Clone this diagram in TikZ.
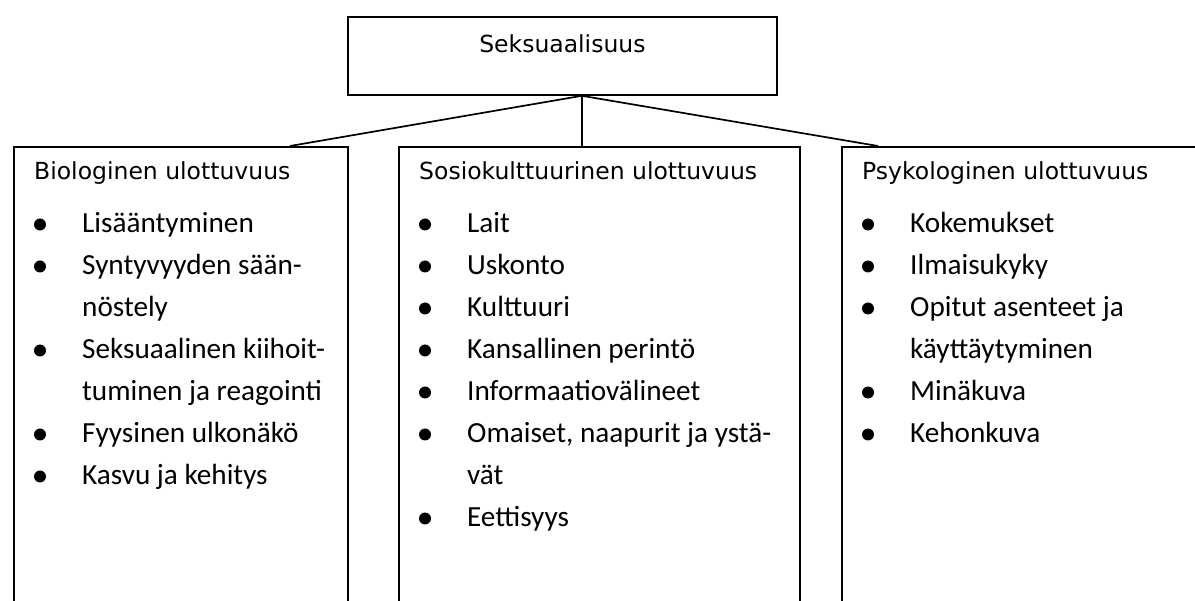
\documentclass[tikz,border=0pt]{standalone}
\usepackage{fontspec}
\newfontfamily\headfont{DejaVu Sans}
\newfontfamily\itemfont{Carlito}
\usetikzlibrary{positioning}
\tikzset{
  dimbox/.style={draw, line width=1.8pt, inner sep=0pt, anchor=north west},
  headtext/.style={font=\headfont\fontsize{23.5}{28}\selectfont, anchor=base west, inner sep=0pt},
  itemtext/.style={font=\itemfont\fontsize{29.2}{35}\selectfont, anchor=base west, inner sep=0pt},
  joinline/.style={line width=1.7pt}
}

\begin{document}
\begin{tikzpicture}[x=1pt,y=-1pt]
  \useasboundingbox (0,0) rectangle (1195,601);

  %top box
  \node[dimbox, minimum width=429pt, minimum height=78pt] (sex) at (347,16) {};
  \node[headtext, anchor=base] (sextext) at ([yshift=-37pt]sex.north) {Seksuaalisuus};

  %the three boxes, they run off the page at the bottom
  \node[dimbox, minimum width=334pt, minimum height=480pt] (bio) at (13,146) {};
  \node[dimbox, minimum width=401pt, minimum height=480pt] (soc) at (398,146) {};
  \node[dimbox, minimum width=380pt, minimum height=480pt] (psy) at (841,146) {};

  %joining lines
  \coordinate (hub) at ([xshift=19.5pt]sex.south);
  \draw[joinline] (hub) -- ([xshift=277pt]bio.north west);
  \draw[joinline] (hub) -- ([xshift=184pt]soc.north west);
  \draw[joinline] (hub) -- ([xshift=37pt]psy.north west);

  %headings
  \node[headtext] (biohead) at ([xshift=21pt,yshift=-34pt]bio.north west) {Biologinen ulottuvuus};
  \node[headtext] (sochead) at ([xshift=21pt,yshift=-34pt]soc.north west) {Sosiokulttuurinen ulottuvuus};
  \node[headtext] (psyhead) at ([xshift=21pt,yshift=-34pt]psy.north west) {Psykologinen ulottuvuus};

  %lists (1 = bullet, 0 = wrapped line)
  \foreach \b/\txt [count=\i] in {1/Lisääntyminen, 1/Syntyvyyden sään-, 0/nöstely,
      1/Seksuaalinen kiihoit-, 0/tuminen ja reagointi, 1/Fyysinen ulkonäkö, 1/Kasvu ja kehitys}{
    \node[itemtext] (bio\i) at ([xshift=69pt,yshift={-87-42*(\i-1)}]bio.north west) {\txt};
    \ifnum\b=1 \fill ([xshift=-42pt,yshift=8.5pt]bio\i.base west) circle (6pt); \fi
  }
  \foreach \b/\txt [count=\i] in {1/Lait, 1/Uskonto, 1/Kulttuuri, 1/Kansallinen perintö,
      1/Informaatiovälineet, 1/{Omaiset, naapurit ja ystä-}, 0/vät, 1/Eettisyys}{
    \node[itemtext] (soc\i) at ([xshift=69pt,yshift={-87-42*(\i-1)}]soc.north west) {\txt};
    \ifnum\b=1 \fill ([xshift=-42pt,yshift=8.5pt]soc\i.base west) circle (6pt); \fi
  }
  \foreach \b/\txt [count=\i] in {1/Kokemukset, 1/Ilmaisukyky, 1/Opitut asenteet ja,
      0/käyttäytyminen, 1/Minäkuva, 1/Kehonkuva}{
    \node[itemtext] (psy\i) at ([xshift=69pt,yshift={-87-42*(\i-1)}]psy.north west) {\txt};
    \ifnum\b=1 \fill ([xshift=-42pt,yshift=8.5pt]psy\i.base west) circle (6pt); \fi
  }
\end{tikzpicture}
\end{document}
